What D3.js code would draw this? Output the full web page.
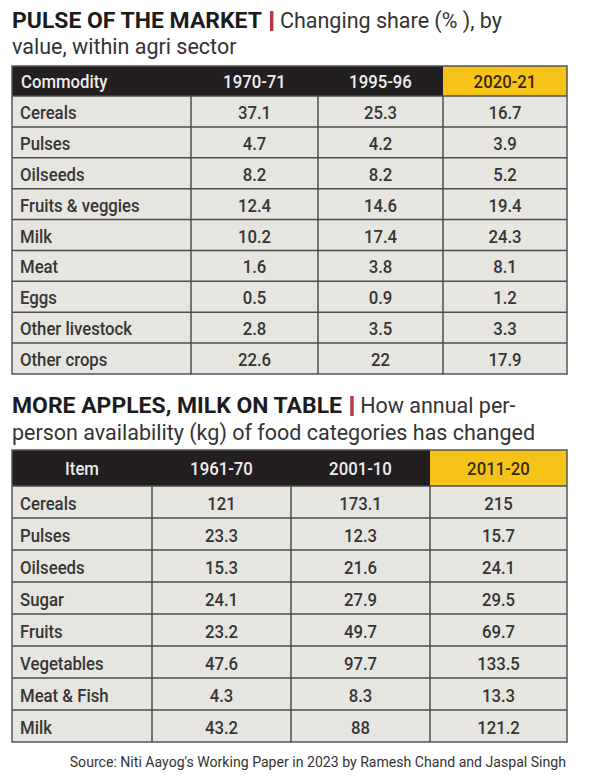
<!DOCTYPE html>
<html><head><meta charset="utf-8">
<script src="https://cdn.jsdelivr.net/npm/d3@7"></script>
<style>html,body{margin:0;padding:0;background:#fff;}svg{display:block;}</style>
</head><body>
<script>
// ---- Data ----
const periods1 = ["1970-71", "1995-96", "2020-21"];
const commodities = ["Cereals","Pulses","Oilseeds","Fruits & veggies","Milk","Meat","Eggs","Other livestock","Other crops"];
const share1970 = [37.1, 4.7, 8.2, 12.4, 10.2, 1.6, 0.5, 2.8, 22.6];
const share1995 = [25.3, 4.2, 8.2, 14.6, 17.4, 3.8, 0.9, 3.5, 22];
const share2020 = [16.7, 3.9, 5.2, 19.4, 24.3, 8.1, 1.2, 3.3, 17.9];

const periods2 = ["1961-70", "2001-10", "2011-20"];
const items = ["Cereals","Pulses","Oilseeds","Sugar","Fruits","Vegetables","Meat & Fish","Milk"];
const avail1961 = [121, 23.3, 15.3, 24.1, 23.2, 47.6, 4.3, 43.2];
const avail2001 = [173.1, 12.3, 21.6, 27.9, 49.7, 97.7, 8.3, 88];
const avail2011 = [215, 15.7, 24.1, 29.5, 69.7, 133.5, 13.3, 121.2];

const W = 600, H = 779;
const FONT = "Roboto, 'Noto Sans', sans-serif";
const SX = 0.93;
const svg = d3.select("body").append("svg").attr("width", W).attr("height", H);
svg.append("rect").attr("width", W).attr("height", H).attr("fill", "#fff");

function txt(g, x, y, s, o) {
  o = o || {};
  return g.append("text")
    .attr("transform", `translate(${x},${y}) scale(${o.sx || SX},1)`)
    .attr("text-anchor", o.anchor || "start")
    .attr("font-family", FONT)
    .attr("font-size", o.size || 18)
    .attr("font-weight", o.weight || 500)
    .attr("fill", o.fill || "#363636")
    .text(s);
}

function title(y1, y2, bold, sub1, sub2) {
  const g = svg.append("g");
  const tsx = 1.02;
  const t = txt(g, 12, y1, bold, {size: 22.5, weight: 700, fill: "#1c1c1c", sx: tsx});
  const bw = t.node().getBBox().width * tsx;
  g.append("rect").attr("x", 12 + bw + 8).attr("y", y1 - 17).attr("width", 3.5).attr("height", 20).attr("fill", "#b83a45");
  txt(g, 12 + bw + 18, y1, sub1, {size: 21.5, weight: 400, fill: "#333", sx: 1.0});
  txt(g, 12, y2, sub2, {size: 21.5, weight: 400, fill: "#333", sx: 1.0});
}

function table(cfg) {
  const g = svg.append("g");
  const nCols = cfg.cols.length;
  const y = d3.scaleBand().domain(cfg.rows).range([cfg.bodyTop, cfg.bottom]).paddingInner(0);
  const xEdges = cfg.xEdges;
  for (let c = 0; c < nCols; c++) {
    g.append("rect").attr("x", xEdges[c]).attr("y", cfg.top)
      .attr("width", xEdges[c + 1] - xEdges[c]).attr("height", cfg.bodyTop - cfg.top)
      .attr("fill", c === nCols - 1 ? "#f6c419" : "#231f20");
  }
  g.append("rect").attr("x", xEdges[0]).attr("y", cfg.bodyTop)
    .attr("width", xEdges[nCols] - xEdges[0]).attr("height", cfg.bottom - cfg.bodyTop)
    .attr("fill", "#e7e5e0");
  const hy = (cfg.top + cfg.bodyTop) / 2 + 7;
  cfg.cols.forEach((h, c) => {
    const last = c === nCols - 1;
    if (c === 0 && cfg.firstLeft) txt(g, xEdges[0] + 9, hy, h, {fill: "#ececec"});
    else txt(g, (xEdges[c] + xEdges[c + 1]) / 2, hy, h, {anchor: "middle", fill: last ? "#3b2a05" : "#ececec"});
  });
  cfg.rows.forEach((r, i) => {
    const cy = y(r) + y.bandwidth() / 2 + 7.5;
    txt(g, xEdges[0] + 8, cy, r);
    cfg.series.forEach((s, j) => {
      txt(g, (xEdges[j + 1] + xEdges[j + 2]) / 2, cy, String(s[i]), {anchor: "middle"});
    });
  });
  const lc = "#4d4d4d";
  cfg.rows.forEach((r, i) => {
    if (i > 0) g.append("line").attr("x1", xEdges[0]).attr("x2", xEdges[nCols])
      .attr("y1", y(r)).attr("y2", y(r)).attr("stroke", lc).attr("stroke-width", 1.5);
  });
  g.append("line").attr("x1", xEdges[0]).attr("x2", xEdges[nCols])
    .attr("y1", cfg.bodyTop).attr("y2", cfg.bodyTop).attr("stroke", lc).attr("stroke-width", 1.5);
  for (let c = 1; c < nCols; c++) {
    g.append("line").attr("x1", xEdges[c]).attr("x2", xEdges[c])
      .attr("y1", cfg.bodyTop).attr("y2", cfg.bottom).attr("stroke", lc).attr("stroke-width", 1.5);
  }
  g.append("rect").attr("x", xEdges[0]).attr("y", cfg.top)
    .attr("width", xEdges[nCols] - xEdges[0]).attr("height", cfg.bottom - cfg.top)
    .attr("fill", "none").attr("stroke", "#555").attr("stroke-width", 1.5);
}

title(28, 54, "PULSE OF THE MARKET", "Changing share (% ), by", "value, within agri sector");
table({
  cols: ["Commodity"].concat(periods1), firstLeft: true,
  rows: commodities, series: [share1970, share1995, share2020],
  top: 66, bodyTop: 96, bottom: 374,
  xEdges: [12, 191, 318, 443, 567]
});

title(413, 440, "MORE APPLES, MILK ON TABLE", "How annual per-", "person availability (kg) of food categories has changed");
table({
  cols: ["Item"].concat(periods2), firstLeft: false,
  rows: items, series: [avail1961, avail2001, avail2011],
  top: 450, bodyTop: 486, bottom: 742,
  xEdges: [12, 152, 291, 430, 567]
});

txt(svg, 566, 767, "Source: Niti Aayog's Working Paper in 2023 by Ramesh Chand and Jaspal Singh",
  {anchor: "end", size: 15, weight: 400, fill: "#333", sx: 0.94});
</script>
</body></html>
